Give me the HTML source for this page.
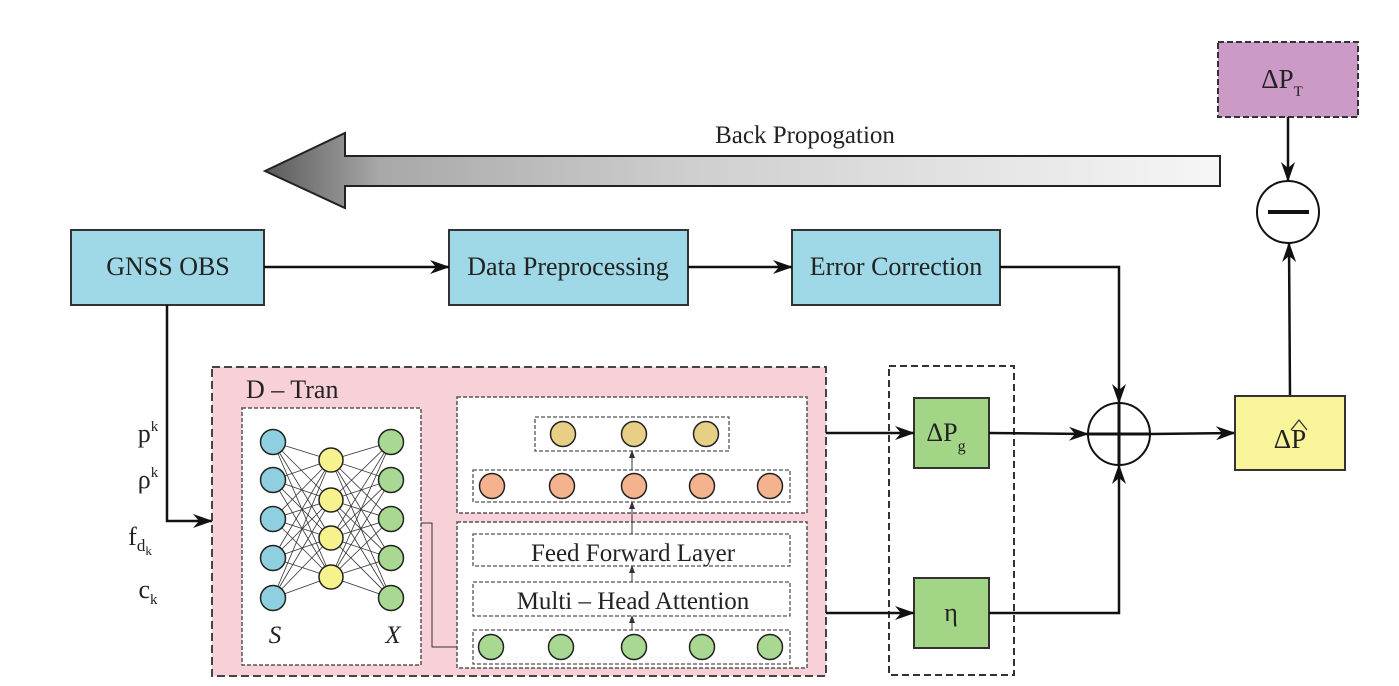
<!DOCTYPE html>
<html><head><meta charset="utf-8"><style>
html,body{margin:0;padding:0;background:#fff;}
svg{display:block;}
text{font-family:"Liberation Serif",serif;fill:#222;}
</style></head><body>
<svg width="1399" height="686" viewBox="0 0 1399 686" xmlns="http://www.w3.org/2000/svg">
<defs>
<linearGradient id="g" x1="0" x2="1" y1="0" y2="0">
<stop offset="0" stop-color="#5a5a5a"/><stop offset="0.12" stop-color="#a8a8a8"/><stop offset="0.45" stop-color="#cfcfcf"/><stop offset="1" stop-color="#f6f6f6"/></linearGradient>
<marker id="a" markerWidth="20" markerHeight="14" refX="19" refY="7" orient="auto" markerUnits="userSpaceOnUse"><path d="M0,0 L20,7 L0,14 L6,7 Z" fill="#111"/></marker>
<marker id="s" markerWidth="8" markerHeight="6" refX="7" refY="3" orient="auto" markerUnits="userSpaceOnUse"><path d="M0,0 L8,3 L0,6 Z" fill="#333"/></marker>
</defs>

<path d="M265,171 L345,133 L345,156 L1220,156 L1220,186 L345,186 L345,208 Z" fill="url(#g)" stroke="#222" stroke-width="2"/>
<text x="805" y="143" font-size="25" text-anchor="middle">Back Propogation</text>

<rect x="1218" y="42" width="140" height="75" fill="#cc9ac6" stroke="#333" stroke-width="2" stroke-dasharray="6,3"/>
<text x="1282" y="88" font-size="27" text-anchor="middle">ΔP<tspan font-size="15" dy="8">T</tspan></text>
<line x1="1288" y1="117" x2="1288" y2="181" stroke="#111" stroke-width="2.5" marker-end="url(#a)"/>
<circle cx="1288" cy="212" r="31" fill="#fff" stroke="#111" stroke-width="2"/>
<line x1="1268" y1="212" x2="1309" y2="212" stroke="#111" stroke-width="4"/>
<line x1="1290" y1="396" x2="1289" y2="243" stroke="#111" stroke-width="2.5" marker-end="url(#a)"/>

<rect x="71" y="230" width="193" height="75" fill="#9fd8e6" stroke="#333" stroke-width="2"/>
<text x="168" y="275" font-size="26" text-anchor="middle">GNSS OBS</text>
<rect x="449" y="230" width="239" height="75" fill="#9fd8e6" stroke="#333" stroke-width="2"/>
<text x="568" y="275" font-size="26" text-anchor="middle">Data Preprocessing</text>
<rect x="792" y="230" width="208" height="75" fill="#9fd8e6" stroke="#333" stroke-width="2"/>
<text x="896" y="275" font-size="26" text-anchor="middle">Error Correction</text>
<line x1="264" y1="267" x2="449" y2="267" stroke="#111" stroke-width="2.5" marker-end="url(#a)"/>
<line x1="688" y1="267" x2="792" y2="267" stroke="#111" stroke-width="2.5" marker-end="url(#a)"/>
<polyline points="1000,267 1119,267 1119,403" fill="none" stroke="#111" stroke-width="2.5" marker-end="url(#a)"/>

<polyline points="167,305 167,521 212,521" fill="none" stroke="#111" stroke-width="2.5" marker-end="url(#a)"/>
<text x="148" y="442" font-size="26" text-anchor="middle">p<tspan font-size="15" dy="-11">k</tspan></text>
<text x="148" y="488" font-size="26" text-anchor="middle">ρ<tspan font-size="15" dy="-11">k</tspan></text>
<text x="140" y="545" font-size="26" text-anchor="middle">f<tspan font-size="17" dy="6">d</tspan><tspan font-size="13" dy="4">k</tspan></text>
<text x="148" y="598" font-size="26" text-anchor="middle">c<tspan font-size="15" dy="6">k</tspan></text>

<rect x="212" y="367" width="614" height="309" fill="#f8d0d8" stroke="#444" stroke-width="2" stroke-dasharray="8,4"/>
<text x="246" y="398" font-size="26">D – Tran</text>

<rect x="242" y="408" width="179" height="257" fill="#fff" stroke="#555" stroke-width="1.5" stroke-dasharray="4,2"/>
<g stroke="#333" stroke-width="0.8">
<line x1="273" y1="442" x2="331" y2="460"/><line x1="273" y1="442" x2="331" y2="500"/><line x1="273" y1="442" x2="331" y2="538"/><line x1="273" y1="442" x2="331" y2="577"/>
<line x1="273" y1="480" x2="331" y2="460"/><line x1="273" y1="480" x2="331" y2="500"/><line x1="273" y1="480" x2="331" y2="538"/><line x1="273" y1="480" x2="331" y2="577"/>
<line x1="273" y1="519" x2="331" y2="460"/><line x1="273" y1="519" x2="331" y2="500"/><line x1="273" y1="519" x2="331" y2="538"/><line x1="273" y1="519" x2="331" y2="577"/>
<line x1="273" y1="558" x2="331" y2="460"/><line x1="273" y1="558" x2="331" y2="500"/><line x1="273" y1="558" x2="331" y2="538"/><line x1="273" y1="558" x2="331" y2="577"/>
<line x1="273" y1="598" x2="331" y2="460"/><line x1="273" y1="598" x2="331" y2="500"/><line x1="273" y1="598" x2="331" y2="538"/><line x1="273" y1="598" x2="331" y2="577"/>
<line x1="331" y1="460" x2="391" y2="442"/><line x1="331" y1="460" x2="391" y2="480"/><line x1="331" y1="460" x2="391" y2="519"/><line x1="331" y1="460" x2="391" y2="558"/><line x1="331" y1="460" x2="391" y2="598"/>
<line x1="331" y1="500" x2="391" y2="442"/><line x1="331" y1="500" x2="391" y2="480"/><line x1="331" y1="500" x2="391" y2="519"/><line x1="331" y1="500" x2="391" y2="558"/><line x1="331" y1="500" x2="391" y2="598"/>
<line x1="331" y1="538" x2="391" y2="442"/><line x1="331" y1="538" x2="391" y2="480"/><line x1="331" y1="538" x2="391" y2="519"/><line x1="331" y1="538" x2="391" y2="558"/><line x1="331" y1="538" x2="391" y2="598"/>
<line x1="331" y1="577" x2="391" y2="442"/><line x1="331" y1="577" x2="391" y2="480"/><line x1="331" y1="577" x2="391" y2="519"/><line x1="331" y1="577" x2="391" y2="558"/><line x1="331" y1="577" x2="391" y2="598"/>
</g>
<g stroke="#222" stroke-width="1.5">
<circle cx="273" cy="442" r="12.5" fill="#8fd0e0"/><circle cx="273" cy="480" r="12.5" fill="#8fd0e0"/><circle cx="273" cy="519" r="12.5" fill="#8fd0e0"/><circle cx="273" cy="558" r="12.5" fill="#8fd0e0"/><circle cx="273" cy="598" r="12.5" fill="#8fd0e0"/>
<circle cx="331" cy="460" r="12" fill="#f6f28e"/><circle cx="331" cy="500" r="12" fill="#f6f28e"/><circle cx="331" cy="538" r="12" fill="#f6f28e"/><circle cx="331" cy="577" r="12" fill="#f6f28e"/>
<circle cx="391" cy="442" r="12.5" fill="#a9d892"/><circle cx="391" cy="480" r="12.5" fill="#a9d892"/><circle cx="391" cy="519" r="12.5" fill="#a9d892"/><circle cx="391" cy="558" r="12.5" fill="#a9d892"/><circle cx="391" cy="598" r="12.5" fill="#a9d892"/>
</g>
<text x="275" y="643" font-size="25" font-style="italic" text-anchor="middle" fill="#223">S</text>
<text x="393" y="643" font-size="25" font-style="italic" text-anchor="middle" fill="#223">X</text>
<polyline points="421,523 432,523 432,647 473,647" fill="none" stroke="#333" stroke-width="1" marker-end="url(#s)"/>

<rect x="457" y="397" width="350" height="116" fill="#fff" stroke="#555" stroke-width="1.5" stroke-dasharray="4,2"/>
<rect x="457" y="522" width="350" height="146" fill="#fff" stroke="#555" stroke-width="1.5" stroke-dasharray="4,2"/>
<g fill="none" stroke="#555" stroke-width="1.3" stroke-dasharray="4,2">
<rect x="535" y="417" width="194" height="34"/>
<rect x="473" y="470" width="317" height="32"/>
<rect x="473" y="534" width="317" height="32"/>
<rect x="473" y="582" width="317" height="34"/>
<rect x="473" y="630" width="317" height="34"/>
</g>
<g stroke="#333" stroke-width="1">
<line x1="632" y1="630" x2="632" y2="616" marker-end="url(#s)"/>
<line x1="632" y1="582" x2="632" y2="566" marker-end="url(#s)"/>
<line x1="632" y1="534" x2="632" y2="502" marker-end="url(#s)"/>
<line x1="632" y1="470" x2="632" y2="451" marker-end="url(#s)"/>
</g>
<g stroke="#222" stroke-width="1.5">
<circle cx="563" cy="434" r="12.5" fill="#e8cf86"/><circle cx="634" cy="434" r="12.5" fill="#e8cf86"/><circle cx="706" cy="434" r="12.5" fill="#e8cf86"/>
<circle cx="492" cy="486" r="12.5" fill="#f4b38e"/><circle cx="562" cy="486" r="12.5" fill="#f4b38e"/><circle cx="634" cy="486" r="12.5" fill="#f4b38e"/><circle cx="702" cy="486" r="12.5" fill="#f4b38e"/><circle cx="770" cy="486" r="12.5" fill="#f4b38e"/>
<circle cx="491" cy="647" r="12.5" fill="#a9d892"/><circle cx="561" cy="647" r="12.5" fill="#a9d892"/><circle cx="634" cy="647" r="12.5" fill="#a9d892"/><circle cx="702" cy="647" r="12.5" fill="#a9d892"/><circle cx="770" cy="647" r="12.5" fill="#a9d892"/>
</g>
<text x="633" y="561" font-size="25" text-anchor="middle">Feed Forward Layer</text>
<text x="633" y="609" font-size="25" text-anchor="middle">Multi – Head Attention</text>

<rect x="889" y="366" width="125" height="309" fill="none" stroke="#333" stroke-width="2" stroke-dasharray="7,4"/>
<rect x="914" y="398" width="75" height="70" fill="#a2d585" stroke="#333" stroke-width="2"/>
<text x="946" y="441" font-size="26" text-anchor="middle">ΔP<tspan font-size="16" dy="10">g</tspan></text>
<rect x="914" y="578" width="75" height="70" fill="#a2d585" stroke="#333" stroke-width="2"/>
<text x="951" y="621" font-size="26" text-anchor="middle">η</text>
<line x1="826" y1="433" x2="914" y2="433" stroke="#111" stroke-width="2.5" marker-end="url(#a)"/>
<line x1="826" y1="613" x2="914" y2="613" stroke="#111" stroke-width="2.5" marker-end="url(#a)"/>
<line x1="989" y1="433" x2="1088" y2="434" stroke="#111" stroke-width="2.5" marker-end="url(#a)"/>
<polyline points="989,613 1119,613 1119,465" fill="none" stroke="#111" stroke-width="2.5" marker-end="url(#a)"/>

<circle cx="1119" cy="434" r="31" fill="#fff" stroke="#111" stroke-width="2"/>
<line x1="1088" y1="434" x2="1150" y2="434" stroke="#111" stroke-width="3"/>
<line x1="1119" y1="403" x2="1119" y2="465" stroke="#111" stroke-width="3"/>
<line x1="1150" y1="434" x2="1235" y2="433" stroke="#111" stroke-width="2.5" marker-end="url(#a)"/>
<rect x="1235" y="396" width="110" height="74" fill="#f8f49a" stroke="#333" stroke-width="2"/>
<text x="1290" y="448" font-size="27" text-anchor="middle">ΔP</text>
<polyline points="1291,430 1299,420 1307,430" fill="none" stroke="#333" stroke-width="1.3"/>
</svg>
</body></html>
